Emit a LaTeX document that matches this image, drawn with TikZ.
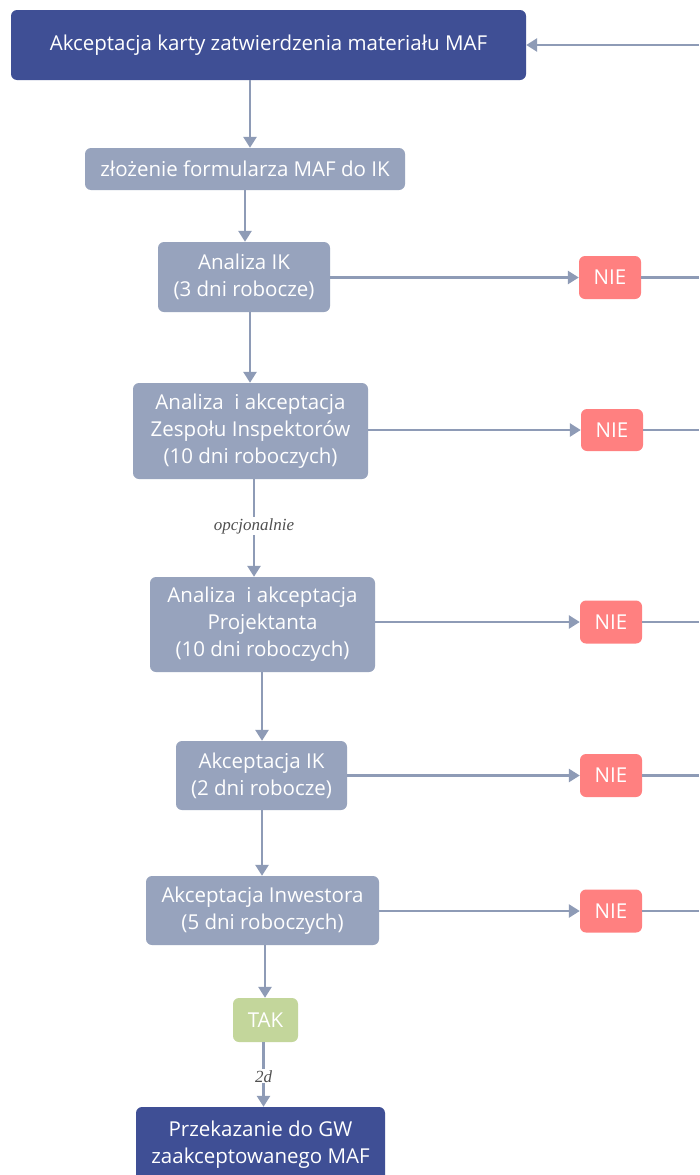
\documentclass[tikz,border=0pt]{standalone}
\usepackage{fontspec}
\setmainfont{Open Sans}
\newfontfamily\notefont{Liberation Serif}
\usetikzlibrary{arrows.meta}
\definecolor{darkbox}{HTML}{3F4F95}
\definecolor{greybox}{HTML}{97A3BD}
\definecolor{nobox}{HTML}{FF8080}
\definecolor{yesbox}{HTML}{C3D69B}
\definecolor{link}{HTML}{8E9BB6}
\definecolor{notetext}{HTML}{505050}
\tikzset{
  card/.style={rounded corners=6pt, text=white, align=center, inner sep=0pt,
    font=\fontsize{20.5}{27}\selectfont},
  headcard/.style={card, fill=darkbox},
  stepcard/.style={card, fill=greybox},
  nocard/.style={card, fill=nobox, minimum width=62pt, minimum height=43pt},
  yescard/.style={card, fill=yesbox, minimum width=65pt, minimum height=44pt},
  flow/.style={draw=link, line width=2.6pt, -{Triangle[length=11pt, width=13pt]}},
  plain/.style={draw=link, line width=2.6pt},
  note/.style={fill=white, text=notetext, inner xsep=2pt, inner ysep=1pt,
    font=\notefont\itshape\fontsize{17}{19}\selectfont}
}
\begin{document}
\begin{tikzpicture}[x=1pt, y=-1pt]
\useasboundingbox (0,0) rectangle (699,1175);
\clip (0,0) rectangle (699,1175);
\fill[white] (0,0) rectangle (699,1175);

% main column of steps
\node[headcard, minimum width=515pt, minimum height=70pt] (start) at (268.5,45)
  {Akceptacja karty zatwierdzenia materiału MAF};
\node[stepcard, minimum width=320pt, minimum height=42pt] (form) at (245,169)
  {złożenie formularza MAF do IK};
\node[stepcard, minimum width=172pt, minimum height=70pt] (ik) at (244,277)
  {Analiza IK\\(3 dni robocze)};
\node[stepcard, minimum width=235pt, minimum height=96pt] (team) at (250.5,431)
  {Analiza\ \ i akceptacja\\Zespołu Inspektorów\\ (10 dni roboczych)};
\node[stepcard, minimum width=225pt, minimum height=95pt] (design) at (262.5,624.5)
  {Analiza\ \ i akceptacja\\Projektanta\\ (10 dni roboczych)};
\node[stepcard, minimum width=171pt, minimum height=69pt] (ikok) at (261.5,775.5)
  {Akceptacja IK\\(2 dni robocze)};
\node[stepcard, minimum width=233pt, minimum height=69pt] (inv) at (262.5,910.5)
  {Akceptacja Inwestora\\(5 dni roboczych)};
\node[yescard] (yes) at (265.5,1020) {TAK};
\node[headcard, minimum width=249pt, minimum height=76pt] (final) at (260.5,1145)
  {Przekazanie do GW\\zaakceptowanego MAF};

% rejection boxes
\node[nocard] (no1) at (610,277.5) {NIE};
\node[nocard, minimum height=42pt] (no2) at (612,430) {NIE};
\node[nocard] (no3) at (611,622) {NIE};
\node[nocard] (no4) at (611,775.5) {NIE};
\node[nocard] (no5) at (611,911) {NIE};

% return line ends at the right edge
\coordinate (back0) at (699,45);
\coordinate (back1) at (699,277.5);
\coordinate (back2) at (699,430);
\coordinate (back3) at (699,622);
\coordinate (back4) at (699,775.5);
\coordinate (back5) at (699,911);

% downward flow
\draw[flow] (start.south -| 250,0) -- (form.north -| 250,0);
\draw[flow] (form.south -| 245,0) -- (ik.north -| 245,0);
\draw[flow] (ik.south -| 250,0) -- (team.north -| 250,0);
\draw[flow] (team.south -| 254,0) -- node[note, pos=0.48] {opcjonalnie} (design.north -| 254,0);
\draw[flow] (design.south -| 262,0) -- (ikok.north -| 262,0);
\draw[flow] (ikok.south -| 262,0) -- (inv.north -| 262,0);
\draw[flow] (inv.south -| 265,0) -- (yes.north -| 265,0);
\draw[flow] (yes.south -| 263.5,0) -- node[note, pos=0.53] {2d} (final.north -| 263.5,0);

% rejections
\draw[flow] (ik.east |- no1) -- (no1.west);
\draw[flow] (team.east |- no2) -- (no2.west);
\draw[flow] (design.east |- no3) -- (no3.west);
\draw[flow] (ikok.east |- no4) -- (no4.west);
\draw[flow] (inv.east |- no5) -- (no5.west);
\draw[plain] (no1.east) -- (back1);
\draw[plain] (no2.east) -- (back2);
\draw[plain] (no3.east) -- (back3);
\draw[plain] (no4.east) -- (back4);
\draw[plain] (no5.east) -- (back5);

% return to the first step
\draw[flow] (back0) -- (start.east);
\end{tikzpicture}
\end{document}
